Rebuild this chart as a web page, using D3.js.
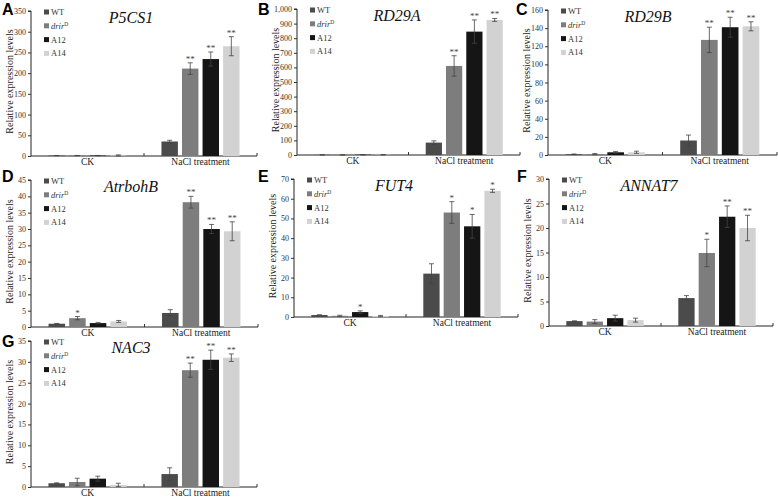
<!DOCTYPE html>
<html><head><meta charset="utf-8">
<script src="https://cdn.jsdelivr.net/npm/d3@7"></script>
<style>body{margin:0;background:#fff}svg{display:block}</style>
</head><body>
<script>
// ---- data ----
const groups = ["CK", "NaCl treatment"];
const series = ["WT", "drir", "A12", "A14"];
const colors = ["#4b4b4b", "#7d7d7d", "#151515", "#d2d2d2"];
const letters = ["A", "B", "C", "D", "E", "F", "G"];
const genes = ["P5CS1", "RD29A", "RD29B", "AtrbohB", "FUT4", "ANNAT7", "NAC3"];
const yMax = [350, 1000, 160, 45, 70, 30, 35];
const yStep = [50, 100, 20, 5, 10, 5, 5];
// values per panel: [WT, drir, A12, A14]
const ckValues = [
  [1, 1, 1, 1.2],
  [1, 1, 2, 2],
  [0.8, 1, 3, 3],
  [1, 2.7, 1.2, 1.7],
  [1, 0.6, 2.5, 0.5],
  [1, 0.9, 1.6, 1.2],
  [0.9, 1.2, 2, 0.5]
];
const ckErrors = [
  [0.3, 0.3, 0.3, 1.5],
  [0.5, 0.5, 1, 1],
  [0.3, 0.6, 0.8, 1.2],
  [0.1, 0.5, 0.2, 0.3],
  [0.1, 0.3, 0.6, 0.3],
  [0.05, 0.4, 0.6, 0.4],
  [0.1, 0.9, 0.6, 0.4]
];
const naclValues = [
  [35, 211, 234, 265],
  [85, 610, 845, 925],
  [16, 127, 141, 142],
  [4.3, 38.2, 30, 29.3],
  [22, 53, 46, 64],
  [5.7, 14.9, 22.3, 20],
  [3.1, 28, 30.5, 31]
];
const naclErrors = [
  [3, 14, 17, 23],
  [12, 70, 80, 10],
  [6, 14, 11, 5],
  [1, 1.8, 1.4, 2.9],
  [5, 5.5, 6, 0.8],
  [0.5, 2.8, 2.2, 2.6],
  [1.5, 1.7, 2.3, 0.9]
];
const ckStars = [
  ["", "", "", ""], ["", "", "", ""], ["", "", "", ""],
  ["", "*", "", ""], ["", "", "*", ""], ["", "", "", ""], ["", "", "", ""]
];
const naclStars = [
  ["", "**", "**", "**"], ["", "**", "**", "**"], ["", "**", "**", "**"],
  ["", "**", "**", "**"], ["", "*", "*", "*"], ["", "*", "**", "**"], ["", "**", "**", "**"]
];

// ---- layout (pixel positions of each panel) ----
const layout = [
  {x0: 31, x1: 257, top: 11, zero: 156, lx: 2, ly: 15},
  {x0: 297, x1: 520, top: 9, zero: 155, lx: 258, ly: 15},
  {x0: 548, x1: 777, top: 10, zero: 155, lx: 516, ly: 15},
  {x0: 31, x1: 258, top: 180, zero: 327, lx: 2, ly: 182},
  {x0: 294, x1: 518, top: 179, zero: 317, lx: 258, ly: 182},
  {x0: 549, x1: 773, top: 179, zero: 326, lx: 517, ly: 182},
  {x0: 31, x1: 257, top: 341, zero: 487, lx: 2, ly: 347}
];

const W = 778, H = 498;
const svg = d3.select("body").append("svg").attr("width", W).attr("height", H);
const serif = "Liberation Serif, Times New Roman, serif";

letters.forEach((letter, i) => {
  const L = layout[i];
  const g = svg.append("g");
  const y = d3.scaleLinear().domain([0, yMax[i]]).range([L.zero, L.top]);
  const x = d3.scaleBand().domain(groups).range([L.x0, L.x1]).padding(0);
  const xs = d3.scaleBand().domain(series).range([0, x.bandwidth()]).paddingInner(0.2).paddingOuter(0.85);

  // y axis
  const yAxis = d3.axisLeft(y).tickValues(d3.range(0, yMax[i] + 1e-9, yStep[i])).tickSize(3).tickPadding(2);
  const ya = g.append("g").attr("transform", `translate(${L.x0},0)`).call(yAxis)
    .attr("font-family", serif).attr("font-size", 8);
  ya.select(".domain").attr("stroke", "#222").attr("d", `M-3,${L.top}H0V${L.zero}`);
  ya.selectAll(".tick line").attr("stroke", "#333");
  ya.selectAll("text").style("font-family", serif).attr("fill", "#333");

  // x axis
  g.append("line").attr("x1", L.x0).attr("x2", L.x1).attr("y1", L.zero).attr("y2", L.zero).attr("stroke", "#222");
  [x("NaCl treatment"), L.x1].forEach(t => {
    g.append("line").attr("x1", t).attr("x2", t).attr("y1", L.zero).attr("y2", L.zero - 3).attr("stroke", "#333");
  });
  groups.forEach(gr => {
    g.append("text").attr("x", x(gr) + x.bandwidth() / 2).attr("y", L.zero + 8.5)
      .attr("text-anchor", "middle").style("font-family", serif).attr("font-size", 9.5).attr("fill", "#222").text(gr);
  });

  // bars
  const data = [];
  groups.forEach((gr, gi) => {
    const vals = gi === 0 ? ckValues[i] : naclValues[i];
    const errs = gi === 0 ? ckErrors[i] : naclErrors[i];
    const st = gi === 0 ? ckStars[i] : naclStars[i];
    series.forEach((s, si) => data.push({gr, s, si, v: vals[si], e: errs[si], star: st[si]}));
  });
  data.forEach(d => {
    const bx = x(d.gr) + xs(d.s);
    const bw = xs.bandwidth();
    g.append("rect").attr("x", bx).attr("y", y(d.v)).attr("width", bw).attr("height", L.zero - y(d.v))
      .attr("fill", colors[d.si]);
    const cx = bx + bw / 2;
    const yt = y(d.v + d.e), yb = y(Math.max(0, d.v - d.e));
    const eb = g.append("g").attr("stroke", "#444").attr("stroke-width", 0.8);
    eb.append("line").attr("x1", cx).attr("x2", cx).attr("y1", yt).attr("y2", yb);
    eb.append("line").attr("x1", cx - 2.5).attr("x2", cx + 2.5).attr("y1", yt).attr("y2", yt);
    eb.append("line").attr("x1", cx - 2.5).attr("x2", cx + 2.5).attr("y1", yb).attr("y2", yb);
    if (d.star) {
      g.append("text").attr("x", cx).attr("y", yt - 1).attr("text-anchor", "middle")
        .style("font-family", serif).attr("font-size", 9).attr("fill", "#444").text(d.star);
    }
  });

  // y label
  g.append("text").attr("transform", `translate(${L.x0 - 18},${(L.top + L.zero) / 2 - 2}) rotate(-90)`)
    .attr("text-anchor", "middle").style("font-family", serif).attr("font-size", 10).attr("fill", "#222")
    .text("Relative expression levels");

  // title
  g.append("text").attr("x", L.x0 + 100).attr("y", L.top + 12).attr("text-anchor", "middle")
    .style("font-family", serif).attr("font-style", "italic").attr("font-size", 16).attr("fill", "#111")
    .text(genes[i]);

  // legend
  series.forEach((s, si) => {
    const ly = L.top + 1 + si * 13.8;
    g.append("rect").attr("x", L.x0 + 13).attr("y", ly - 2.5).attr("width", 5).attr("height", 5).attr("fill", colors[si]);
    const t = g.append("text").attr("x", L.x0 + 20).attr("y", ly + 3).style("font-family", serif)
      .attr("font-size", 8.5).attr("fill", "#333");
    if (s === "drir") {
      t.append("tspan").attr("font-style", "italic").text("drir");
      t.append("tspan").attr("font-size", 5.5).attr("dy", -3).text("D");
    } else t.text(s);
  });

  // panel letter
  svg.append("text").attr("x", L.lx).attr("y", L.ly).style("font-family", "Liberation Sans, Arial, sans-serif")
    .attr("font-weight", "bold").attr("font-size", 16).attr("fill", "#000").text(letter);
});
</script>
</body></html>
